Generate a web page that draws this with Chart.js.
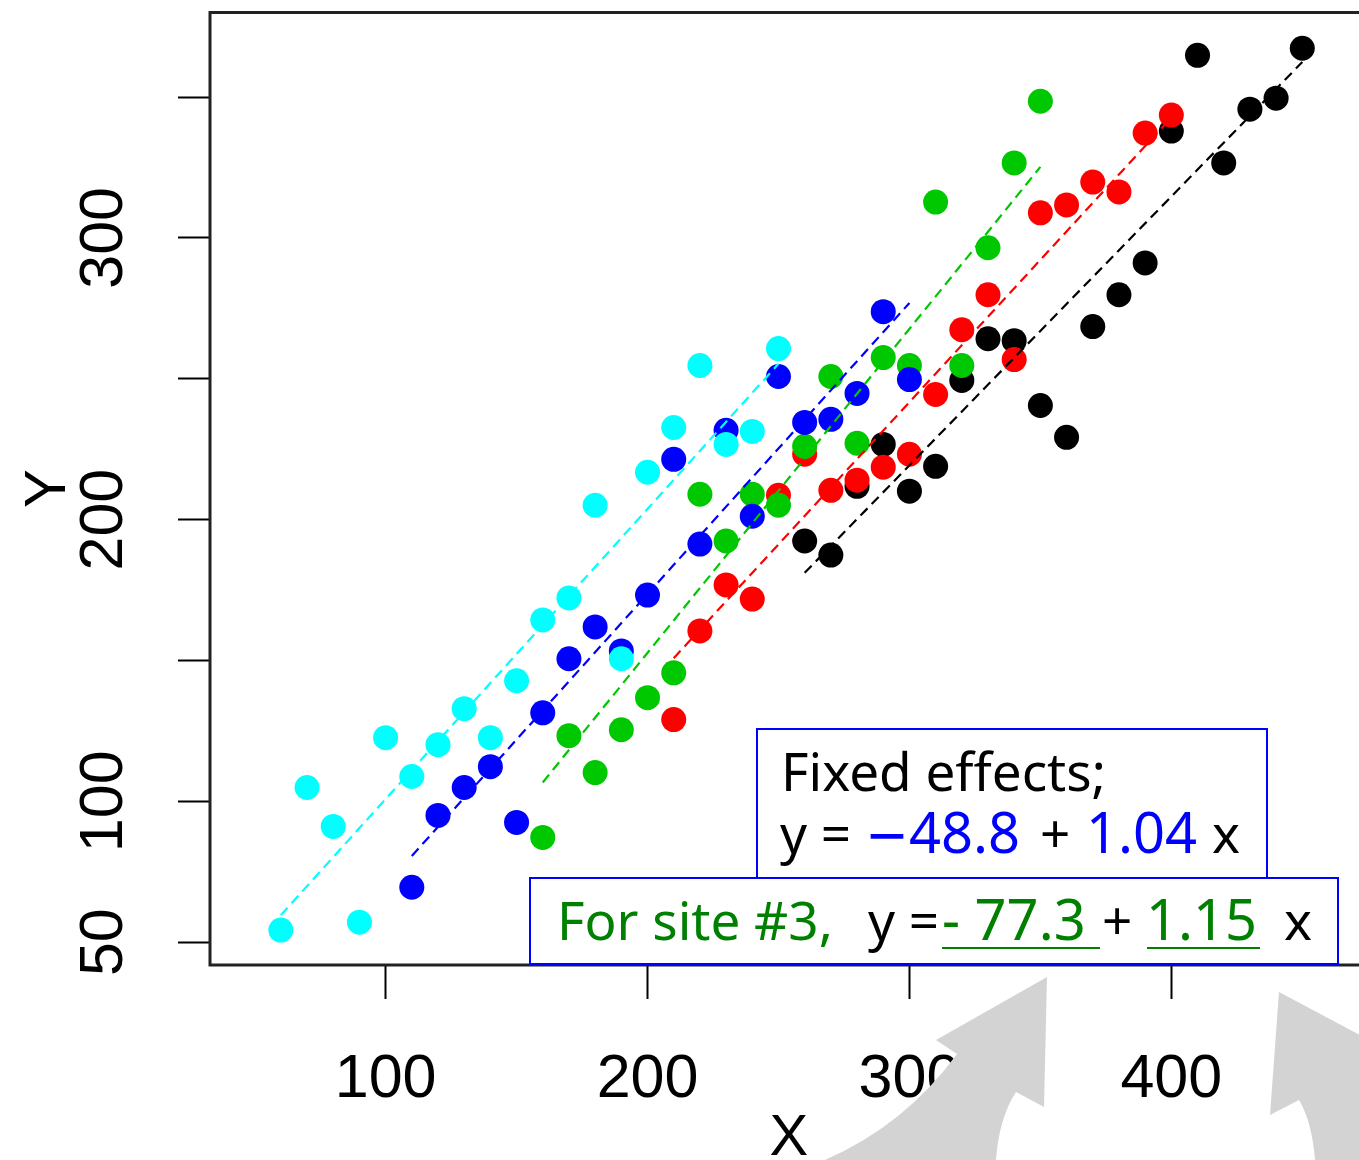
<!DOCTYPE html>
<html>
<head>
<meta charset="utf-8">
<script src="https://cdn.jsdelivr.net/npm/chart.js@4.4.0/dist/chart.umd.min.js"></script>
<style>
  html, body { margin: 0; padding: 0; overflow: hidden; background: #fff; }
</style>
</head>
<body>
<canvas id="scatterChart" width="1380" height="1160"></canvas>
<script>
// axis ticks
const xTicks = [100, 200, 300, 400];
const yTicks = [50, 100, 150, 200, 250, 300, 350];
const yTickLabels = ["50", "100", "", "200", "", "300", ""];

// one array pair per site (site #3 is the green one)
const site1X = [260, 270, 280, 290, 300, 310, 320, 330, 340, 350, 360, 370, 380, 390, 400, 410, 420, 430, 440, 450];
const site1Y = [192.4, 187.4, 211.8, 226.7, 210.1, 218.9, 249.4, 264.2, 263.5, 240.5, 229.2, 268.5, 279.8, 291.1, 337.9, 364.8, 326.6, 345.7, 349.6, 367.3];
const site2X = [210, 220, 230, 240, 250, 260, 270, 280, 290, 300, 310, 320, 330, 340, 350, 360, 370, 380, 390, 400];
const site2Y = [129, 160.5, 176.8, 171.8, 208.6, 223.2, 210.4, 214, 218.6, 223.2, 244.4, 267.4, 279.8, 256.8, 308.9, 311.7, 319.8, 316.3, 337.2, 343.6];
const site3X = [160, 170, 180, 190, 200, 210, 220, 230, 240, 250, 260, 270, 280, 290, 300, 310, 320, 330, 340, 350];
const site3Y = [87.2, 123.3, 110.2, 125.4, 136.8, 145.6, 209, 192.4, 209, 205.1, 226, 250.8, 227.1, 257.5, 254.7, 312.7, 254.7, 296.5, 326.6, 348.5];
const site4X = [110, 120, 130, 140, 150, 160, 170, 180, 190, 200, 210, 220, 230, 240, 250, 260, 270, 280, 290, 300];
const site4Y = [69.5, 95, 104.9, 112.3, 92.5, 131.4, 150.6, 161.9, 153.4, 173.2, 221.4, 191.3, 231.7, 201.2, 250.8, 234.5, 235.6, 244.8, 273.8, 249.7];
const site5X = [60, 70, 80, 90, 100, 110, 120, 130, 140, 150, 160, 170, 180, 190, 200, 210, 220, 230, 240, 250];
const site5Y = [54.3, 104.9, 91.1, 57.1, 122.6, 108.8, 120.1, 132.9, 122.6, 142.8, 164.4, 172.2, 205.1, 150.6, 216.8, 232.7, 254.7, 226.7, 231.3, 260.7];

// fitted line end points per site
const fitX0 = [260, 210, 160, 110, 60];
const fitY0 = [181.1, 150.8, 106.7, 80.6, 59.6];
const fitX1 = [450, 400, 350, 300, 250];
const fitY1 = [362.4, 342.7, 325.2, 276.9, 255.3];

const siteNames = ["site #1", "site #2", "site #3", "site #4", "site #5"];
const siteColors = ["#000000", "#ff0000", "#00c800", "#0000ff", "#00ffff"];
const siteX = [site1X, site2X, site3X, site4X, site5X];
const siteY = [site1Y, site2Y, site3Y, site4Y, site5Y];

const datasets = [];
// dashed fits first so they sit on top of the points
for (let i = 4; i >= 0; i--) {
  datasets.push({
    label: siteNames[i] + " fit",
    data: [{ x: fitX0[i], y: fitY0[i] }, { x: fitX1[i], y: fitY1[i] }],
    showLine: true,
    borderColor: siteColors[i],
    borderWidth: 2.2,
    borderDash: [10, 6],
    pointRadius: 0,
    fill: false
  });
}
for (let i = 4; i >= 0; i--) {
  datasets.push({
    label: siteNames[i],
    data: siteX[i].map((x, k) => ({ x: x, y: siteY[i][k] })),
    backgroundColor: siteColors[i],
    borderWidth: 0,
    pointRadius: 12.5,
    pointHoverRadius: 12.5
  });
}

const textFont = '53px "Noto Sans"';
const numFont = '56px "Noto Sans"';

function runs(ctx, items, y) {
  items.forEach(r => {
    ctx.font = r.font || textFont;
    ctx.fillStyle = r.color;
    ctx.fillText(r.text, r.x, y);
    if (r.under) {
      ctx.strokeStyle = r.color;
      ctx.lineWidth = 2;
      ctx.beginPath();
      ctx.moveTo(r.under[0], y + 8);
      ctx.lineTo(r.under[1], y + 8);
      ctx.stroke();
    }
  });
}

const annotations = {
  id: "annotations",
  afterDraw(chart) {
    const ctx = chart.ctx;
    const a = chart.chartArea;
    ctx.save();

    // plot frame
    ctx.strokeStyle = "#222";
    ctx.lineWidth = 3;
    ctx.strokeRect(a.left, a.top, a.right - a.left, a.bottom - a.top);

    // fixed effects box
    ctx.fillStyle = "#fff";
    ctx.fillRect(757, 729, 510, 149);
    ctx.strokeStyle = "#0000ff";
    ctx.lineWidth = 2;
    ctx.strokeRect(757, 729, 510, 149);

    ctx.textBaseline = "alphabetic";
    ctx.textAlign = "left";
    runs(ctx, [{ text: "Fixed effects;", x: 781, color: "#000" }], 791);
    runs(ctx, [
      { text: "y =", x: 780, color: "#000" },
      { text: "\uFF0D", x: 864, color: "#0000ff", font: 'bold 46px "Noto Sans CJK JP"' },
      { text: "48.8", x: 909, color: "#0000ff", font: numFont },
      { text: "+", x: 1040, color: "#000" },
      { text: "1.04", x: 1086, color: "#0000ff", font: numFont },
      { text: "x", x: 1212, color: "#000" }
    ], 853);

    // site #3 box
    ctx.fillStyle = "#fff";
    ctx.fillRect(530, 878, 808, 86);
    ctx.strokeStyle = "#0000ff";
    ctx.lineWidth = 2;
    ctx.strokeRect(530, 878, 808, 86);
    runs(ctx, [
      { text: "For site #3,", x: 557, color: "#008000" },
      { text: "y =", x: 868, color: "#000" },
      { text: "- 77.3", x: 942, color: "#008000", font: numFont, under: [942, 1100] },
      { text: "+", x: 1102, color: "#000" },
      { text: "1.15", x: 1146, color: "#008000", font: numFont, under: [1147, 1260] },
      { text: "x", x: 1284, color: "#000" }
    ], 940);

    // grey curved arrows pointing at the coefficients
    ctx.fillStyle = "#d3d3d3";
    ctx.beginPath();
    ctx.moveTo(1047, 977);
    ctx.lineTo(1044, 1107);
    ctx.lineTo(1016, 1092);
    ctx.quadraticCurveTo(999, 1118, 996, 1160);
    ctx.lineTo(825, 1160);
    ctx.quadraticCurveTo(905, 1125, 957, 1054);
    ctx.lineTo(936, 1040);
    ctx.closePath();
    ctx.fill();

    ctx.beginPath();
    ctx.moveTo(1279, 992);
    ctx.lineTo(1270, 1115);
    ctx.lineTo(1299, 1100);
    ctx.quadraticCurveTo(1312, 1122, 1315, 1160);
    ctx.lineTo(1480, 1160);
    ctx.quadraticCurveTo(1410, 1120, 1362, 1064);
    ctx.lineTo(1388, 1050);
    ctx.closePath();
    ctx.fill();

    ctx.restore();
  }
};

const tickFont = { family: '"Liberation Sans Narrow", "Liberation Sans", sans-serif', size: 61, weight: "normal" };
const titleFont = { family: '"Liberation Sans Narrow", "Liberation Sans", sans-serif', size: 58, weight: "normal" };

new Chart(document.getElementById("scatterChart"), {
  type: "scatter",
  data: { datasets: datasets },
  plugins: [annotations],
  options: {
    responsive: false,
    animation: false,
    devicePixelRatio: 1,
    layout: { padding: { top: 10, right: 10, left: 0, bottom: 0 } },
    plugins: { legend: { display: false }, tooltip: { enabled: false } },
    scales: {
      x: {
        type: "linear",
        min: 32.95,
        max: 474.9,
        afterBuildTicks: s => { s.ticks = xTicks.map(v => ({ value: v })); },
        afterFit: s => { s.height = 195; s.paddingLeft = 0; s.paddingRight = 0; },
        border: { display: false },
        grid: { drawOnChartArea: false, drawTicks: true, tickLength: 34, tickWidth: 2, tickColor: "#000" },
        ticks: { font: tickFont, color: "#000", padding: 45, maxRotation: 0, autoSkip: false },
        title: { display: true, text: "X", font: titleFont, color: "#000", padding: { top: 0, bottom: -14 } }
      },
      y: {
        type: "linear",
        min: 41.9,
        max: 380,
        afterBuildTicks: s => { s.ticks = yTicks.map(v => ({ value: v })); },
        afterFit: s => { s.width = 210; s.paddingTop = 0; s.paddingBottom = 0; },
        border: { display: false },
        grid: { drawOnChartArea: false, drawTicks: true, tickLength: 32, tickWidth: 2, tickColor: "#000" },
        ticks: {
          font: tickFont, color: "#000", padding: 22, minRotation: 90, maxRotation: 90,
          crossAlign: "center", autoSkip: false,
          callback: v => yTickLabels[yTicks.indexOf(v)]
        },
        title: { display: true, text: "Y", font: titleFont, color: "#000", padding: { top: 14, bottom: 0 } }
      }
    }
  }
});
</script>
</body>
</html>
